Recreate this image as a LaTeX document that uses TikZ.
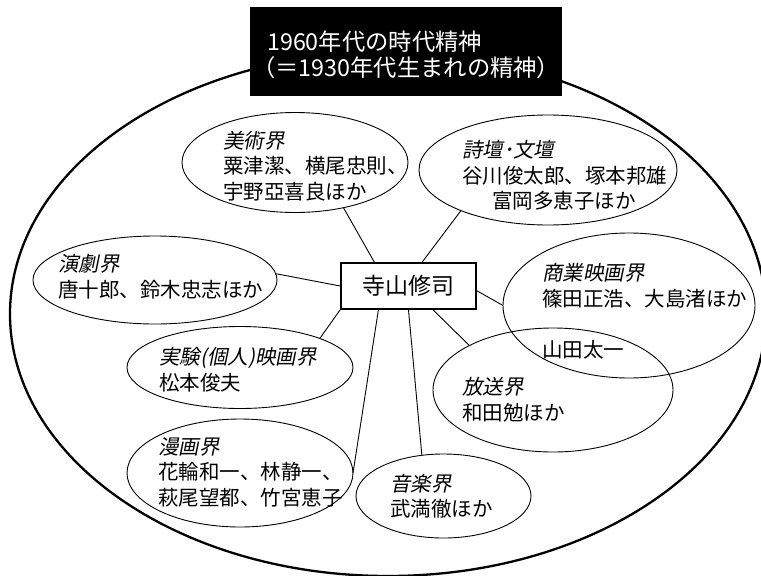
\documentclass[tikz,border=0pt]{standalone}
\usepackage{fontspec}
\setmainfont{Noto Sans CJK JP}
\newfontfamily\jpit[FakeSlant=0.2]{Noto Sans CJK JP}
\usetikzlibrary{shapes.geometric,calc}
\begin{document}
\begin{tikzpicture}[x=1pt,y=-1pt,
  ell/.style={draw, ellipse, line width=0.9pt, inner sep=0pt, outer sep=0pt},
  link/.style={draw, line width=0.9pt},
  txt/.style={anchor=west, align=left, inner sep=0pt, font=\fontsize{20.5}{25.5}\selectfont},
  cat/.style={font=\jpit}
]
\useasboundingbox (0,0) rectangle (761,576);
\clip (0,0) rectangle (761,576);
\fill[white] (0,0) rectangle (761,576);
% outer ellipse
\node[draw, ellipse, line width=2.3pt, inner sep=0pt, minimum width=756pt, minimum height=524pt] (world) at (388,314) {};
% title
\node[fill=black, minimum width=312pt, minimum height=89pt, inner sep=0pt, anchor=north west] (titlebox) at (250,7) {};
\node[text=white, anchor=west, align=left, inner sep=0pt, font=\fontsize{23.3}{26.5}\selectfont] (title) at (252,55)
  {\hspace*{15pt}1960年代の時代精神\\（＝1930年代生まれの精神）};
% centre
\node[draw, fill=white, line width=1.8pt, minimum width=135pt, minimum height=46pt, inner sep=0pt, font=\fontsize{23}{23}\selectfont] (tera) at (408.5,286) {寺山修司};
% group ellipses
\node[ell, minimum width=226pt, minimum height=100pt] (bijutsu) at (295,162.5) {};
\node[ell, minimum width=258pt, minimum height=110pt] (shidan) at (548,170) {};
\node[ell, minimum width=244pt, minimum height=88pt] (engeki) at (155,280) {};
\node[ell, minimum width=226pt, minimum height=82pt] (jikken) at (240,367.5) {};
\node[ell, minimum width=252pt, minimum height=145pt] (shougyou) at (629,305.5) {};
\node[ell, minimum width=240pt, minimum height=124pt] (housou) at (553,390) {};
\node[ell, minimum width=226pt, minimum height=108pt] (manga) at (240,473) {};
\node[ell, minimum width=175pt, minimum height=84pt] (ongaku) at (443.5,496) {};
% texts
\node[txt] (bijutsu-t) at (223,166) {{\jpit 美術界}\\粟津潔、横尾忠則、\\宇野亞喜良ほか};
\node[txt] (shidan-t) at (462,175.5) {{\jpit 詩壇･文壇}\\谷川俊太郎、塚本邦雄\\\hspace*{30pt}富岡多恵子ほか};
\node[txt] (engeki-t) at (58,276.5) {{\jpit 演劇界}\\唐十郎、鈴木忠志ほか};
\node[txt] (jikken-t) at (159,369.5) {{\jpit 実験(個人)映画界}\\松本俊夫};
\node[txt] (shougyou-t) at (542,285.5) {{\jpit 商業映画界}\\篠田正浩、大島渚ほか};
\node[txt] (yamada) at (542,350) {山田太一};
\node[txt] (housou-t) at (462,399.5) {{\jpit 放送界}\\和田勉ほか};
\node[txt] (manga-t) at (158,472) {{\jpit 漫画界}\\花輪和一、林静一、\\萩尾望都、竹宮恵子};
\node[txt] (ongaku-t) at (390,496.5) {{\jpit 音楽界}\\武満徹ほか};
% connectors
\draw[link] (bijutsu.-43.5) -- ($(tera.north west)!0.25!(tera.north east)$);
\draw[link] (shidan.205) -- ($(tera.north west)!0.6!(tera.north east)$);
\draw[link] (engeki.3) -- (tera.west);
\draw[link] (jikken.20) -- (tera.south west);
\draw[link] (manga.east) -- ($(tera.south west)!0.28!(tera.south east)$);
\draw[link] (ongaku.118.7) -- (tera.south);
\draw[link] (housou.152) -- ($(tera.south west)!0.68!(tera.south east)$);
\draw[link] (shougyou.west) -- ($(tera.north east)!0.6!(tera.south east)$);
\end{tikzpicture}
\end{document}
